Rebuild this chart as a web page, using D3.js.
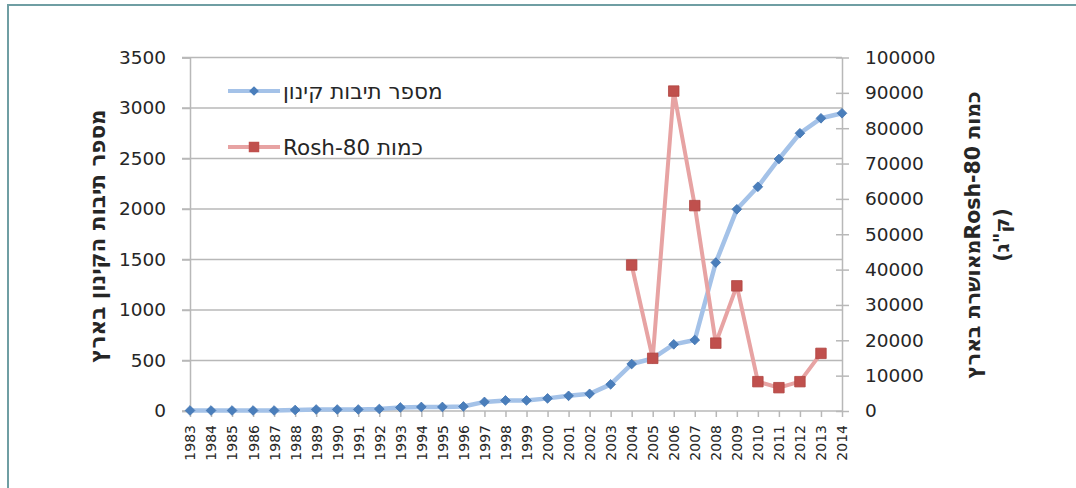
<!DOCTYPE html>
<html lang="he">
<head>
<meta charset="utf-8">
<script src="https://cdn.jsdelivr.net/npm/d3@7"></script>
<style>
  html, body { margin: 0; padding: 0; background: #fff; }
  svg { display: block; }
  text { font-family: "DejaVu Sans", sans-serif; fill: #262626; }
</style>
</head>
<body>
<svg id="chart" width="1076" height="488"></svg>
<script>
// ---- data ----
const years = ["1983","1984","1985","1986","1987","1988","1989","1990","1991","1992","1993","1994","1995","1996","1997","1998","1999","2000","2001","2002","2003","2004","2005","2006","2007","2008","2009","2010","2011","2012","2013","2014"];
const nestBoxes = [5,5,5,5,5,10,15,15,15,20,35,40,40,45,90,105,105,125,150,170,264,465,520,660,703,1470,1997,2220,2495,2750,2898,2948];
const roshYears = ["2004","2005","2006","2007","2008","2009","2010","2011","2012","2013"];
const roshAmount = [41300,14900,90500,58100,19200,35400,8300,6600,8300,16300];
const leftTicks = [0,500,1000,1500,2000,2500,3000,3500];
const rightTicks = [0,10000,20000,30000,40000,50000,60000,70000,80000,90000,100000];
const seriesNames = ["מספר תיבות קינון", "כמות Rosh-80"];
const leftTitle = "מספר תיבות הקינון בארץ";
const rightTitle1 = "כמות Rosh-80מאושרת בארץ";
const rightTitle2 = "(ק\"ג)";

// ---- layout ----
const svg = d3.select("#chart");
const L = 190, R = 842, T = 57.5, B = 411;

// frame
svg.append("rect").attr("x", 8).attr("y", 5).attr("width", 1200).attr("height", 600)
  .attr("fill", "none").attr("stroke", "#6f9ea3").attr("stroke-width", 2);

const x = d3.scalePoint().domain(years).range([L, R]);
const yL = d3.scaleLinear().domain([0, 3500]).range([B, T]);
const yR = d3.scaleLinear().domain([0, 100000]).range([B, T]);

const gridColor = "#b8b8b8";

// gridlines
svg.append("g").selectAll("line").data(leftTicks.filter(d => d > 0)).join("line")
  .attr("x1", L - 8).attr("x2", R).attr("y1", d => yL(d)).attr("y2", d => yL(d))
  .attr("stroke", gridColor).attr("stroke-width", 1.5);

// left axis
const gL = svg.append("g").attr("transform", `translate(${L},0)`)
  .call(d3.axisLeft(yL).tickValues(leftTicks).tickSize(8).tickPadding(16).tickFormat(d3.format("d")));
gL.select(".domain").attr("stroke", gridColor).attr("stroke-width", 1.5);
gL.selectAll(".tick line").attr("stroke", gridColor).attr("stroke-width", 1.5);
gL.selectAll(".tick text").style("font-size", "18.5px").attr("fill", "#222").style("font-family", "DejaVu Sans");

// right axis
const gR = svg.append("g").attr("transform", `translate(${R},0)`)
  .call(d3.axisRight(yR).tickValues(rightTicks).tickSizeInner(7).tickSizeOuter(0).tickPadding(16).tickFormat(d3.format("d")));
gR.select(".domain").attr("stroke", gridColor).attr("stroke-width", 1.5);
gR.selectAll(".tick line").attr("x1", -6).attr("stroke", gridColor).attr("stroke-width", 1.5);
gR.selectAll(".tick text").style("font-size", "18.5px").attr("fill", "#222").style("font-family", "DejaVu Sans");

// bottom axis
const gB = svg.append("g").attr("transform", `translate(0,${B})`)
  .call(d3.axisBottom(x).tickSizeInner(6).tickSizeOuter(0).tickPadding(4));
gB.select(".domain").attr("stroke", gridColor).attr("stroke-width", 1.5)
  .attr("d", `M${L - 8},0H${R}`);
gB.selectAll(".tick line").attr("stroke", gridColor).attr("stroke-width", 1.5);
gB.selectAll(".tick text")
  .style("font-size", "14px").attr("fill", "#1a1a1a").style("font-family", "DejaVu Sans")
  .attr("transform", "rotate(-90)")
  .attr("x", -14).attr("y", 0).attr("dy", "0.35em")
  .attr("text-anchor", "end");

// series
const blueLine = "#a4c2e8", blueMark = "#4a7ebb";
const redLine = "#e7a3a3", redMark = "#c0504d";

const nestData = years.map((y, i) => ({ y, v: nestBoxes[i] }));
const roshData = roshYears.map((y, i) => ({ y, v: roshAmount[i] }));

svg.append("path").datum(nestData)
  .attr("fill", "none").attr("stroke", blueLine).attr("stroke-width", 4.5).attr("stroke-linejoin", "round")
  .attr("d", d3.line().x(d => x(d.y)).y(d => yL(d.v)));

svg.append("path").datum(roshData)
  .attr("fill", "none").attr("stroke", redLine).attr("stroke-width", 4).attr("stroke-linejoin", "round")
  .attr("d", d3.line().x(d => x(d.y)).y(d => yR(d.v)));

const diamond = d3.symbol().type(d3.symbolDiamond2).size(60);
const square = d3.symbol().type(d3.symbolSquare).size(110);

svg.append("g").selectAll("path").data(nestData).join("path")
  .attr("transform", d => `translate(${x(d.y)},${yL(d.v)})`)
  .attr("d", diamond).attr("fill", blueMark).attr("stroke", "#4173b0").attr("stroke-width", 0.8);

svg.append("g").selectAll("path").data(roshData).join("path")
  .attr("transform", d => `translate(${x(d.y)},${yR(d.v)})`)
  .attr("d", square).attr("fill", redMark).attr("stroke", "#b04541").attr("stroke-width", 0.8);

// legend
const leg = svg.append("g");
const legItems = [
  { name: seriesNames[0], y: 91, line: blueLine, mark: blueMark, sym: diamond },
  { name: seriesNames[1], y: 147, line: redLine, mark: redMark, sym: square }
];
legItems.forEach(it => {
  leg.append("line").attr("x1", 228).attr("x2", 280).attr("y1", it.y).attr("y2", it.y)
    .attr("stroke", it.line).attr("stroke-width", 4);
  leg.append("path").attr("transform", `translate(254,${it.y})`).attr("d", it.sym).attr("fill", it.mark);
  leg.append("text").attr("x", 283).attr("y", it.y).attr("dy", "0.35em")
    .attr("direction", "rtl").attr("text-anchor", "end")
    .style("font-size", "21.5px").text(it.name);
});

// axis titles
svg.append("text")
  .attr("transform", `translate(97,236) rotate(-90)`)
  .attr("text-anchor", "middle").attr("direction", "rtl").attr("dy", "0.35em")
  .style("font-size", "21.5px").style("font-weight", "bold")
  .text(leftTitle);

svg.append("text")
  .attr("transform", `translate(973,235) rotate(-90)`)
  .attr("text-anchor", "middle").attr("direction", "rtl").attr("dy", "0.35em")
  .style("font-size", "20.5px").style("font-weight", "bold")
  .text(rightTitle1);
svg.append("text")
  .attr("transform", `translate(1002,235) rotate(-90)`)
  .attr("text-anchor", "middle").attr("direction", "rtl").attr("dy", "0.35em")
  .style("font-size", "20.5px").style("font-weight", "bold")
  .text(rightTitle2);
</script>
</body>
</html>
